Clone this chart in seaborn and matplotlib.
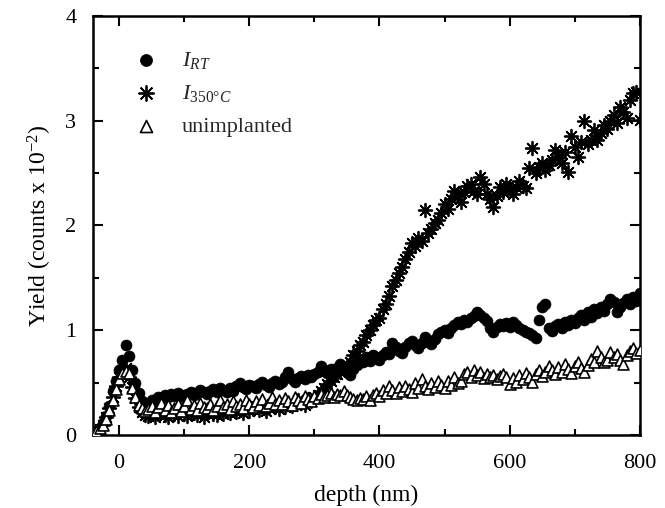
import matplotlib
matplotlib.use('Agg')
import pandas as pd
import matplotlib.pyplot as plt
from matplotlib.ticker import MultipleLocator
import seaborn as sns

# depth grid (nm), shared by all three profiles
depth = [-35, -30, -25, -20, -15, -10, -5, 0, 5, 10, 15, 20, 25, 30, 35, 40,
         45, 50, 55, 60, 65, 70, 75, 80, 85, 90, 95, 100, 105, 110, 115, 120,
         125, 130, 135, 140, 145, 150, 155, 160, 165, 170, 175, 180, 185, 190,
         195, 200, 205, 210, 215, 220, 225, 230, 235, 240, 245, 250, 255, 260,
         265, 270, 275, 280, 285, 290, 295, 300, 305, 310, 315, 320, 325, 330,
         335, 340, 345, 350, 355, 360, 365, 370, 375, 380, 385, 390, 395, 400,
         405, 410, 415, 420, 425, 430, 435, 440, 445, 450, 455, 460, 465, 470,
         475, 480, 485, 490, 495, 500, 505, 510, 515, 520, 525, 530, 535, 540,
         545, 550, 555, 560, 565, 570, 575, 580, 585, 590, 595, 600, 605, 610,
         615, 620, 625, 630, 635, 640, 645, 650, 655, 660, 665, 670, 675, 680,
         685, 690, 695, 700, 705, 710, 715, 720, 725, 730, 735, 740, 745, 750,
         755, 760, 765, 770, 775, 780, 785, 790, 795, 800]

yield_rt = [0.04, 0.07, 0.11, 0.18, 0.28, 0.42, 0.52, 0.62, 0.72, 0.86, 0.75, 0.62, 0.50, 0.40, 0.32, 0.29,
            0.30, 0.33, 0.31, 0.36, 0.34, 0.38, 0.36, 0.39, 0.37, 0.40, 0.38, 0.36, 0.39, 0.41, 0.38, 0.40,
            0.43, 0.41, 0.39, 0.42, 0.44, 0.41, 0.45, 0.43, 0.41, 0.45, 0.42, 0.47, 0.50, 0.46,
            0.44, 0.48, 0.47, 0.45, 0.49, 0.51, 0.48, 0.46, 0.50, 0.52, 0.49, 0.51, 0.55, 0.60,
            0.53, 0.51, 0.54, 0.56, 0.53, 0.57, 0.55, 0.58, 0.60, 0.66, 0.62, 0.59, 0.63, 0.60,
            0.64, 0.68, 0.65, 0.60, 0.57, 0.63, 0.67, 0.72, 0.70, 0.74, 0.71, 0.76, 0.74, 0.72,
            0.76, 0.79, 0.77, 0.88, 0.84, 0.80, 0.78, 0.84, 0.88, 0.90, 0.86, 0.83, 0.88, 0.94,
            0.90, 0.87, 0.92, 0.96, 0.98, 1.00, 0.97, 1.02, 1.05, 1.08, 1.06, 1.10, 1.08, 1.12,
            1.14, 1.17, 1.15, 1.12, 1.09, 1.02, 0.98, 1.03, 1.06, 1.04, 1.07, 1.03, 1.08, 1.05,
            1.02, 1.00, 0.98, 0.97, 0.95, 0.93, 1.10, 1.22, 1.25, 1.02, 0.99, 1.04, 1.06, 1.02,
            1.08, 1.05, 1.10, 1.07, 1.12, 1.15, 1.10, 1.17, 1.13, 1.20, 1.16, 1.22, 1.18, 1.25,
            1.30, 1.27, 1.17, 1.22, 1.26, 1.30, 1.25, 1.32, 1.28, 1.36]

yield_350 = [0.03, 0.06, 0.10, 0.17, 0.26, 0.36, 0.47, 0.55, 0.62, 0.64, 0.55, 0.46, 0.35, 0.27, 0.22, 0.19,
             0.18, 0.21, 0.17, 0.20, 0.23, 0.19, 0.17, 0.22, 0.20, 0.18, 0.24, 0.20, 0.18, 0.22, 0.21, 0.19,
             0.24, 0.17, 0.21, 0.23, 0.20, 0.19, 0.24, 0.20, 0.23, 0.21, 0.25, 0.22, 0.24, 0.21,
             0.26, 0.23, 0.25, 0.28, 0.24, 0.27, 0.23, 0.26, 0.30, 0.27, 0.25, 0.29, 0.27, 0.31,
             0.28, 0.30, 0.33, 0.31, 0.29, 0.34, 0.32, 0.36, 0.38, 0.42, 0.45, 0.49, 0.52, 0.55,
             0.58, 0.60, 0.63, 0.67, 0.70, 0.76, 0.80, 0.86, 0.89, 0.95, 1.00, 1.05, 1.10, 1.12,
             1.20, 1.25, 1.33, 1.42, 1.48, 1.55, 1.60, 1.68, 1.75, 1.83, 1.80, 1.88, 1.85, 2.15,
             1.93, 1.97, 2.02, 2.05, 2.12, 2.20, 2.16, 2.25, 2.33, 2.28, 2.22, 2.32, 2.38, 2.40,
             2.33, 2.30, 2.46, 2.40, 2.30, 2.25, 2.18, 2.28, 2.37, 2.32, 2.40, 2.35, 2.30, 2.37,
             2.42, 2.38, 2.36, 2.55, 2.74, 2.50, 2.56, 2.60, 2.53, 2.58, 2.62, 2.72, 2.65, 2.60,
             2.70, 2.51, 2.85, 2.75, 2.65, 2.80, 3.00, 2.78, 2.82, 2.91, 2.82, 2.88, 2.96, 2.92,
             3.00, 3.05, 2.98, 3.13, 3.08, 3.03, 3.20, 3.26, 3.27, 3.01]

yield_unimp = [0.04, 0.07, 0.10, 0.15, 0.24, 0.33, 0.44, 0.53, 0.59, 0.61, 0.59, 0.45, 0.36, 0.29, 0.26, 0.23,
               0.25, 0.28, 0.22, 0.27, 0.31, 0.24, 0.29, 0.22, 0.26, 0.30, 0.23, 0.28, 0.33, 0.25, 0.29, 0.24,
               0.31, 0.27, 0.26, 0.30, 0.24, 0.28, 0.33, 0.27, 0.30, 0.25, 0.32, 0.28, 0.30, 0.26,
               0.33, 0.30, 0.27, 0.32, 0.29, 0.34, 0.28, 0.31, 0.36, 0.30, 0.33, 0.30, 0.35, 0.32,
               0.29, 0.36, 0.33, 0.31, 0.37, 0.34, 0.32, 0.37, 0.35, 0.39, 0.36, 0.38, 0.40, 0.36,
               0.39, 0.38, 0.42, 0.38, 0.36, 0.34, 0.33, 0.35, 0.34, 0.37, 0.33, 0.38, 0.40, 0.37,
               0.43, 0.40, 0.47, 0.43, 0.40, 0.46, 0.42, 0.47, 0.44, 0.41, 0.50, 0.45, 0.53, 0.47,
               0.44, 0.50, 0.46, 0.52, 0.48, 0.45, 0.52, 0.48, 0.55, 0.50, 0.52, 0.58, 0.60, 0.55,
               0.62, 0.57, 0.60, 0.54, 0.58, 0.55, 0.57, 0.53, 0.56, 0.58, 0.55, 0.49, 0.54, 0.51,
               0.57, 0.53, 0.59, 0.55, 0.51, 0.58, 0.62, 0.56, 0.60, 0.66, 0.62, 0.58, 0.65, 0.60,
               0.68, 0.63, 0.59, 0.66, 0.70, 0.64, 0.60, 0.67, 0.73, 0.70, 0.80, 0.74, 0.70, 0.72,
               0.79, 0.74, 0.77, 0.72, 0.68, 0.76, 0.80, 0.83, 0.78, 0.81]

df = pd.DataFrame({'depth': depth, 'rt': yield_rt, 'hot': yield_350, 'unimp': yield_unimp})

sns.set_style('ticks')
plt.rcParams['font.family'] = ['Liberation Serif', 'DejaVu Serif']
plt.rcParams['mathtext.fontset'] = 'custom'
plt.rcParams['mathtext.rm'] = 'Liberation Serif'
plt.rcParams['mathtext.it'] = 'Liberation Serif:italic'

fig = plt.figure(figsize=(6.65, 5.08), dpi=100)
ax = fig.add_axes([0.14, 0.1437, 0.822, 0.825])

sns.scatterplot(data=df, x='depth', y='rt', ax=ax, marker='o', s=62, color='black',
                edgecolor='black', linewidth=0.5, label=r'$\mathit{I}_{\mathit{RT}}$', zorder=2)
sns.scatterplot(data=df, x='depth', y='hot', ax=ax, marker=(8, 2, 0), s=95, color='black',
                linewidth=1.3, label=r'$\mathit{I}_{\mathit{350°C}}$', zorder=3)
sns.scatterplot(data=df, x='depth', y='unimp', ax=ax, marker='^', s=62, facecolor='white',
                edgecolor='black', linewidth=1.2, label='unimplanted', zorder=4)

ax.set_xlim(-40, 800)
ax.set_ylim(0, 4)
ax.xaxis.set_major_locator(MultipleLocator(200))
ax.xaxis.set_minor_locator(MultipleLocator(100))
ax.yaxis.set_major_locator(MultipleLocator(1))
ax.yaxis.set_minor_locator(MultipleLocator(0.5))
ax.tick_params(which='both', direction='in', top=True, right=True, labelsize=16,
               width=1.5, colors='black')
ax.tick_params(which='major', length=7)
ax.tick_params(which='minor', length=4)
ax.tick_params(axis='x', which='major', pad=14)
ax.tick_params(axis='y', which='major', pad=12)
for sp in ax.spines.values():
    sp.set_linewidth(1.8)
    sp.set_color('black')

ax.set_xlabel('depth (nm)', fontsize=17, labelpad=8, color='black')
ax.set_ylabel(r'Yield (counts x 10$^{-2}$)', fontsize=17, labelpad=8, color='black')

ax.legend(loc='upper left', bbox_to_anchor=(0.04, 0.94), frameon=False, fontsize=16,
          handletextpad=0.6, labelspacing=0.55, borderaxespad=0, markerscale=1.1)

fig.savefig('out.png', dpi=100)
plt.close()
